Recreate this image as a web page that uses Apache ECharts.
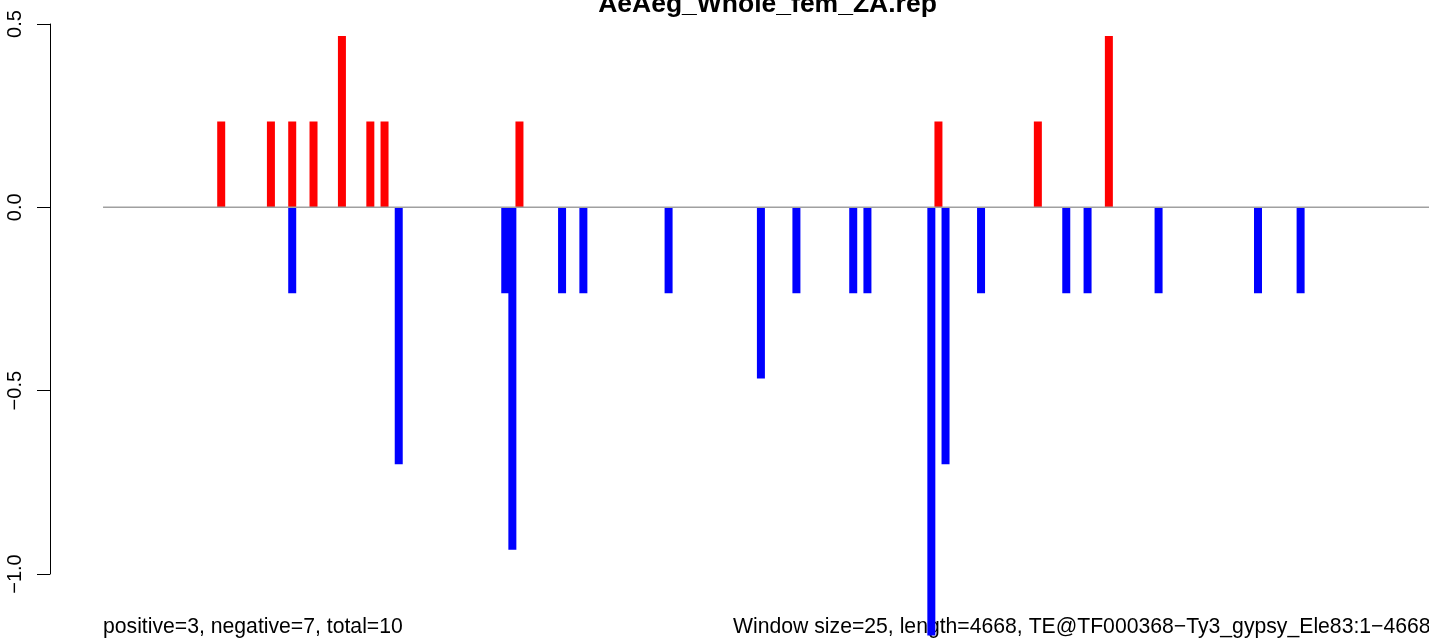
<!DOCTYPE html>
<html>
<head>
<meta charset="utf-8">
<script src="https://cdn.jsdelivr.net/npm/echarts@6/dist/echarts.min.js"></script>
<style>
html,body{margin:0;padding:0;background:#fff;}
#chart{width:1429px;height:641px;}
</style>
</head>
<body>
<div id="chart"></div>
<script>
// ---- data (positions in bp) ----
const titleText = "AeAeg_Whole_fem_ZA.rep";
const leftNote = "positive=3, negative=7, total=10";
const rightNote = "Window size=25, length=4668, TE@TF000368\u2212Ty3_gypsy_Ele83:1\u22124668";
const seqLength = 4668;
const yTicks = [-1.0, -0.5, 0.0, 0.5];

const posPositions = [416, 591, 666, 741, 841, 941, 991, 1466, 2941, 3291, 3541];
const posValues    = [0.234, 0.234, 0.234, 0.234, 0.467, 0.234, 0.234, 0.234, 0.234, 0.234, 0.467];

const negPositions = [666, 1041, 1416, 1441, 1616, 1691, 1991, 2316, 2441, 2641, 2691, 2916, 2966, 3091, 3391, 3466, 3716, 4066, 4216];
const negValues    = [-0.234, -0.701, -0.234, -0.934, -0.234, -0.234, -0.234, -0.467, -0.234, -0.234, -0.234, -1.168, -0.701, -0.234, -0.234, -0.234, -0.234, -0.234, -0.234];

const baseline = [[0, 0], [seqLength, 0]];

// ---- chart ----
const FONT = '"Liberation Sans", Arial, Helvetica, sans-serif';
const chart = echarts.init(document.getElementById('chart'), null, {renderer: 'canvas'});
const xPad = seqLength * 0.04;

chart.setOption({
  animation: false,
  backgroundColor: '#ffffff',
  grid: {left: 50, right: 0, top: 24, bottom: 67, containLabel: false},
  xAxis: {
    type: 'value', min: -xPad, max: seqLength, show: false
  },
  yAxis: {
    type: 'value', min: yTicks[0], max: yTicks[yTicks.length - 1], interval: 0.5,
    axisLine: {show: true, onZero: false, lineStyle: {color: '#000', width: 1}},
    axisTick: {show: true, length: 13, lineStyle: {color: '#000', width: 1}},
    splitLine: {show: false},
    axisLabel: {
      rotate: 90, margin: 25, color: '#000', fontSize: 20, fontFamily: FONT,
      formatter: v => v.toFixed(1).replace('-', '\u2212')
    }
  },
  graphic: [
    {type: 'text', z: 1, x: 767.5, y: 4.5,
     style: {text: titleText, font: 'bold 26.5px ' + FONT, fill: '#000', align: 'center', verticalAlign: 'middle'}},
    {type: 'text', z: 1, x: 103, y: 627.5,
     style: {text: leftNote, font: '21.2px ' + FONT, fill: '#000', align: 'left', verticalAlign: 'middle'}},
    {type: 'text', z: 1, x: 733, y: 627.5,
     style: {text: rightNote, font: '21.2px ' + FONT, fill: '#000', align: 'left', verticalAlign: 'middle'}}
  ],
  series: [
    {
      type: 'bar', name: 'positive', z: 3, clip: false,
      barWidth: 8, barGap: '-100%',
      itemStyle: {color: '#ff0000'},
      data: posPositions.map((p, i) => [p, posValues[i]])
    },
    {
      type: 'bar', name: 'negative', z: 3, clip: false,
      barWidth: 8, barGap: '-100%',
      itemStyle: {color: '#0000ff'},
      data: negPositions.map((p, i) => [p, negValues[i]])
    },
    {
      type: 'line', name: 'zero', z: 4, clip: false,
      symbol: 'none', silent: true,
      lineStyle: {color: '#a0a0a0', width: 1.5},
      data: baseline
    }
  ]
});
</script>
</body>
</html>
